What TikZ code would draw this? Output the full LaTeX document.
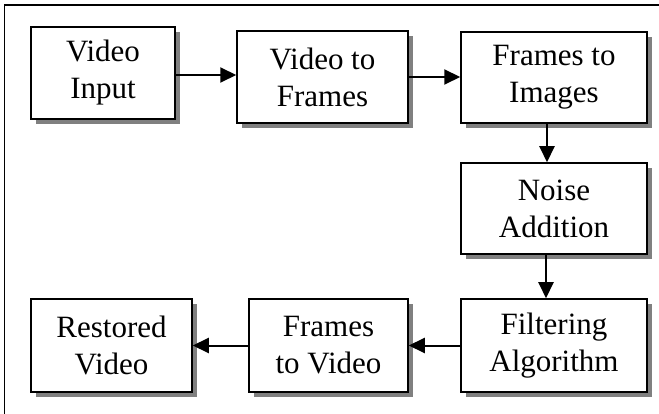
\documentclass[tikz,border=0pt]{standalone}
\usepackage{fontspec}
\setmainfont{Liberation Serif}
\usetikzlibrary{arrows.meta}
\begin{document}
\begin{tikzpicture}[x=1pt,y=-1pt,
  box/.style={draw=black,line width=1.5pt,fill=white,align=center,inner sep=0pt,
    font=\fontsize{31}{37}\selectfont},
  shad/.style={fill=black!50,draw=none},
  conn/.style={line width=2pt,-{Triangle[length=16pt,width=15pt]}}]
\useasboundingbox (0,0) rectangle (659,414);
\draw[line width=1.5pt] (4.5,414) -- (4.5,5) -- (659,5);
% shadows
\foreach \cx/\cy/\w/\h in {103/73/144/92, 322.5/77/171/92, 554/77.5/186/91, 554/208.5/186/91, 554/345.5/186/93, 328.5/345.5/159/93, 111.5/345.5/161/93}{
  \fill[shad] (\cx-\w/2+5,\cy-\h/2+5) rectangle (\cx+\w/2+5,\cy+\h/2+5);
}
\node[box,minimum width=144pt,minimum height=92pt] (b1) at (103,73) {Video\\Input};
\node[box,minimum width=171pt,minimum height=92pt] (b2) at (322.5,77) {Video to\\Frames};
\node[box,minimum width=186pt,minimum height=91pt] (b3) at (554,77.5) {Frames to\\Images};
\node[box,minimum width=186pt,minimum height=91pt] (b4) at (554,208.5) {Noise\\Addition};
\node[box,minimum width=186pt,minimum height=93pt] (b5) at (554,345.5) {Filtering\\Algorithm};
\node[box,minimum width=159pt,minimum height=93pt] (b6) at (328.5,345.5) {Frames\\to Video};
\node[box,minimum width=161pt,minimum height=93pt] (b7) at (111.5,345.5) {Restored\\Video};
\draw[conn] ([yshift=-2pt]b1.east) -- ([yshift=-2pt]b1.east -| b2.west);
\draw[conn] (b2.east) -- (b2.east -| b3.west);
\draw[conn] ([xshift=-7pt]b3.south) -- ([xshift=-7pt]b3.south |- b4.north);
\draw[conn] ([xshift=-8pt]b4.south) -- ([xshift=-8pt]b4.south |- b5.north);
\draw[conn] (b5.west) -- (b5.west -| b6.east);
\draw[conn] (b6.west) -- (b6.west -| b7.east);
\end{tikzpicture}
\end{document}
